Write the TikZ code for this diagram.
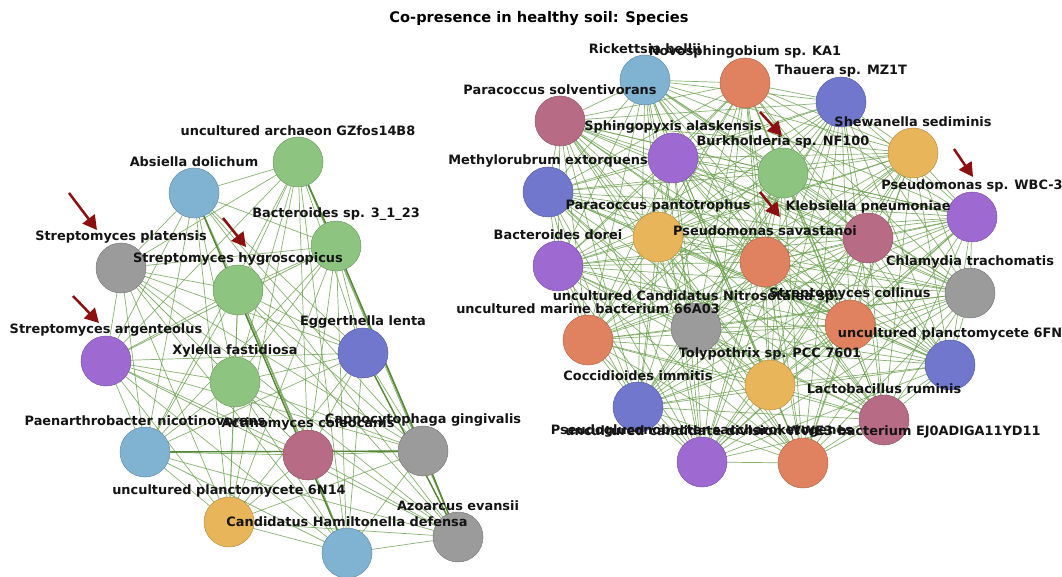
\documentclass[tikz,border=0pt]{standalone}
\usepackage{fontspec}
\setmainfont{DejaVu Sans}
\usetikzlibrary{arrows.meta,backgrounds}
\definecolor{blueC}{RGB}{128,178,210}
\definecolor{greenC}{RGB}{141,196,127}
\definecolor{greyC}{RGB}{155,155,155}
\definecolor{purpleC}{RGB}{158,106,210}
\definecolor{indigoC}{RGB}{112,119,205}
\definecolor{roseC}{RGB}{184,107,133}
\definecolor{salmonC}{RGB}{224,130,95}
\definecolor{yellowC}{RGB}{233,181,90}
\definecolor{edgeC}{RGB}{105,160,75}
\definecolor{edgeD}{RGB}{85,135,55}
\definecolor{arrowC}{RGB}{140,16,16}
\begin{document}
\begin{tikzpicture}[x=1pt,y=-1pt,
  sp/.style={circle,minimum size=50pt,inner sep=0pt,line width=0.5pt},
  lab/.style={font=\bfseries\fontsize{12.9}{13}\selectfont,inner sep=0pt,text=black!92},
  ttl/.style={font=\bfseries\fontsize{14.6}{15}\selectfont,inner sep=0pt},
  edge/.style={draw=edgeC,line width=0.7pt,opacity=0.8},
  thickedge/.style={draw=edgeD,line width=1.4pt},
  redarrow/.style={draw=arrowC,line width=2.5pt,-{Triangle[length=14pt,width=15pt]}}
]
\useasboundingbox (0,0) rectangle (1062,577);

\node[ttl] (title) at (539,19) {Co-presence in healthy soil: Species};

% left component circles
\foreach \n/\x/\y/\c in {
 1/298/162/greenC, 2/194/193/blueC, 3/336/246/greenC, 4/121/268/greyC,
 5/238/290/greenC, 6/106/361/purpleC, 7/363/353/indigoC, 8/235/382/greenC,
 9/145/452/blueC, 10/308/455/roseC, 11/423/451/greyC, 12/229/522/yellowC,
 13/347/553/blueC, 14/458/537/greyC}
 \node[sp,fill=\c,draw=\c!80!black] (L\n) at (\x,\y) {};

% right component circles
\foreach \n/\x/\y/\c in {
 1/645/80/blueC, 2/745/83/salmonC, 3/841/102/indigoC, 4/560/121/roseC,
 5/673/158/purpleC, 6/783/173/greenC, 7/913/153/yellowC, 8/548/192/indigoC,
 9/972/217/purpleC, 10/658/237/yellowC, 11/868/238/roseC, 12/558/266/purpleC,
 13/765/262/salmonC, 14/970/293/greyC, 15/696/328/greyC, 16/850/325/salmonC,
 17/588/340/salmonC, 18/770/385/yellowC, 19/950/365/indigoC, 20/638/407/indigoC,
 21/884/420/roseC, 22/702/462/purpleC, 23/803/463/salmonC}
 \node[sp,fill=\c,draw=\c!80!black] (R\n) at (\x,\y) {};

% edges behind
\begin{scope}[on background layer]
 \fill[white] (0,0) rectangle (1062,577);
 \foreach \i in {1,...,13}{
   \pgfmathtruncatemacro\k{\i+1}
   \foreach \j in {\k,...,14}{ \draw[edge] (L\i.center) -- (L\j.center); }
 }
 \foreach \i in {1,...,22}{
   \pgfmathtruncatemacro\k{\i+1}
   \foreach \j in {\k,...,23}{ \draw[edge] (R\i.center) -- (R\j.center); }
 }
 \draw[thickedge] (L1.center) -- (L3.center);
 \draw[thickedge] (L2.center) -- (L13.center);
 \draw[thickedge] (L3.center) -- (L11.center);
 \draw[thickedge] (L11.center) -- (L14.center);
 \draw[thickedge] (L9.center) -- (L11.center);
 \draw[thickedge] (L7.center) -- (L14.center);
\end{scope}

% labels
\foreach \n/\x/\y/\t in {
 1/298/162/uncultured archaeon GZfos14B8, 2/194/193/Absiella dolichum,
 3/336/246/Bacteroides sp. 3\_1\_23, 4/121/268/Streptomyces platensis,
 5/238/290/Streptomyces hygroscopicus, 6/106/361/Streptomyces argenteolus,
 7/363/353/Eggerthella lenta, 8/235/382/Xylella fastidiosa,
 9/145/452/Paenarthrobacter nicotinovorans, 10/308/455/Actinomyces coleocanis,
 11/423/451/Capnocytophaga gingivalis, 12/229/522/uncultured planctomycete 6N14,
 13/347/553/Candidatus Hamiltonella defensa, 14/458/537/Azoarcus evansii}
 \node[lab] (L\n-lab) at (\x,{\y-31.5}) {\t};

\foreach \n/\x/\y/\t in {
 1/645/80/Rickettsia bellii, 2/745/83/Novosphingobium sp. KA1,
 3/841/102/Thauera sp. MZ1T, 4/560/121/Paracoccus solventivorans,
 5/673/158/Sphingopyxis alaskensis, 6/783/173/Burkholderia sp. NF100,
 7/913/153/Shewanella sediminis, 8/548/192/Methylorubrum extorquens,
 9/972/217/Pseudomonas sp. WBC-3, 10/658/237/Paracoccus pantotrophus,
 11/868/238/Klebsiella pneumoniae, 12/558/266/Bacteroides dorei,
 13/765/262/Pseudomonas savastanoi, 14/970/293/Chlamydia trachomatis,
 15/696/328/uncultured Candidatus Nitrosotalea sp., 16/850/325/Streptomyces collinus,
 17/588/340/uncultured marine bacterium 66A03, 18/770/385/Tolypothrix sp. PCC 7601,
 19/950/365/uncultured planctomycete 6FN, 20/638/407/Coccidioides immitis,
 21/884/420/Lactobacillus ruminis, 22/702/462/Pseudogluconobacter saccharoketogenes,
 23/803/463/uncultured candidate division WWE3 bacterium EJ0ADIGA11YD11}
 \node[lab] (R\n-lab) at (\x,{\y-31.5}) {\t};

% red arrows
\coordinate (a1s) at (69,193);  \coordinate (a1e) at (97,230);
\coordinate (a2s) at (223,218); \coordinate (a2e) at (246,247);
\coordinate (a3s) at (73,296);  \coordinate (a3e) at (99,323);
\coordinate (a4s) at (760,112); \coordinate (a4e) at (782,136);
\coordinate (a5s) at (954,149); \coordinate (a5e) at (973,177);
\coordinate (a6s) at (760,192); \coordinate (a6e) at (780,217);
\foreach \k in {1,...,6} \draw[redarrow] (a\k s) -- (a\k e);
\end{tikzpicture}
\end{document}
